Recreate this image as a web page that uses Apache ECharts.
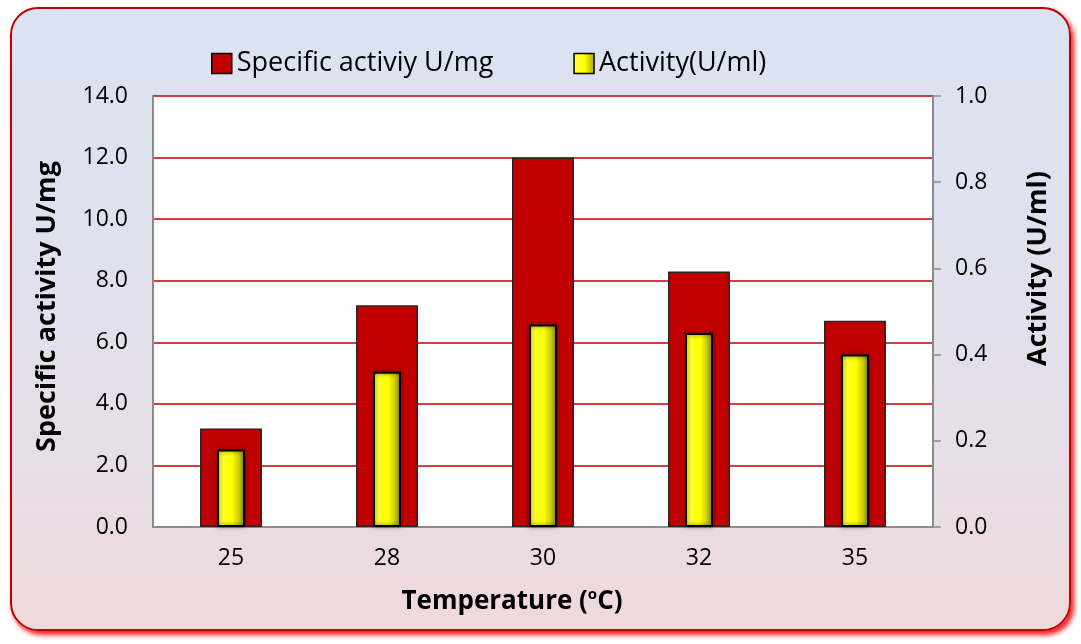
<!DOCTYPE html>
<html>
<head>
<meta charset="utf-8">
<script src="https://cdn.jsdelivr.net/npm/echarts@6/dist/echarts.min.js"></script>
<style>
  html, body { margin: 0; padding: 0; width: 1081px; height: 644px; overflow: hidden; background: #ffffff; }
  #frame {
    position: absolute; left: 10px; top: 7px; width: 1061px; height: 624px;
    box-sizing: border-box; border: 2px solid #c00000; border-radius: 28px;
    background: linear-gradient(to bottom, #dbe3f3 0%, #e3dfea 60%, #efd9dc 100%);
    box-shadow: 3px 4px 5px rgba(255, 0, 0, 0.9);
  }
  #chart { position: absolute; left: 0; top: 0; width: 1081px; height: 644px; }
</style>
</head>
<body>
<div id="frame"></div>
<div id="chart"></div>
<script>
// Temperature series (°C) and the two measured quantities
const temperatures = ['25', '28', '30', '32', '35'];
const specificActivity = [3.2, 7.2, 12.0, 8.3, 6.7];   // U/mg
const activity = [0.18, 0.36, 0.47, 0.45, 0.40];       // U/ml

const FONT = '"Open Sans", "Noto Sans", sans-serif';

const yellowFill = new echarts.graphic.LinearGradient(0, 0, 1, 0, [
  { offset: 0, color: '#ffff40' },
  { offset: 0.55, color: '#ffff00' },
  { offset: 0.65, color: '#e8e800' },
  { offset: 1, color: '#a6a600' }
]);

const chart = echarts.init(document.getElementById('chart'), null, { renderer: 'canvas' });

chart.setOption({
  backgroundColor: 'transparent',
  textStyle: { fontFamily: FONT },
  legend: {
    top: 45,
    left: 206,
    icon: 'rect',
    itemWidth: 20,
    itemHeight: 20,
    itemGap: 80,
    textStyle: { fontSize: 27, color: '#000', fontFamily: FONT },
    data: [
      { name: 'Specific activiy U/mg', itemStyle: { color: '#c00000', borderColor: '#000', borderWidth: 1.5 } },
      { name: 'Activity(U/ml)', itemStyle: { color: yellowFill, borderColor: '#000', borderWidth: 1.5 } }
    ]
  },
  grid: { left: 153, right: 148, top: 96, bottom: 117, show: true, backgroundColor: '#ffffff', borderWidth: 0 },
  xAxis: [
    {
      type: 'category',
      data: temperatures,
      name: '{b|Temperature (}{s|o}{b|C)}',
      nameLocation: 'middle',
      nameGap: 60,
      nameTextStyle: {
        padding: [0, 62, 0, 0],
        rich: {
          b: { fontSize: 26, fontWeight: 'bold', color: '#000', fontFamily: FONT },
          s: { fontSize: 15, fontWeight: 'bold', color: '#000', fontFamily: FONT, verticalAlign: 'top', padding: [0, 0, 14, 0] }
        }
      },
      axisLine: { lineStyle: { color: '#8c8c8c', width: 2 } },
      axisTick: { show: false },
      axisLabel: { fontSize: 23, color: '#000', margin: 20, fontFamily: FONT }
    },
    {
      // second category axis, hidden, so the narrow bars centre on the wide ones
      type: 'category',
      data: temperatures,
      show: false
    }
  ],
  yAxis: [
    {
      type: 'value',
      min: 0, max: 14, interval: 2,
      name: 'Specific activity U/mg',
      nameLocation: 'middle',
      nameGap: 92,
      nameRotate: 90,
      nameTextStyle: { fontSize: 27, fontWeight: 'bold', color: '#000', fontFamily: FONT, padding: [0, 0, 0, 10] },
      axisLine: { show: true, lineStyle: { color: '#8c8c8c', width: 2 } },
      axisTick: { show: false },
      axisLabel: { fontSize: 23, color: '#000', margin: 25, fontFamily: FONT, formatter: v => v.toFixed(1) },
      splitLine: { show: true, lineStyle: { color: '#c00000', width: 1.5 } }
    },
    {
      type: 'value',
      min: 0, max: 1, interval: 0.2,
      position: 'right',
      name: 'Activity (U/ml)',
      nameLocation: 'middle',
      nameGap: 92,
      nameRotate: 90,
      nameTextStyle: { fontSize: 27, fontWeight: 'bold', color: '#000', fontFamily: FONT, padding: [0, 0, 0, 86] },
      axisLine: { show: true, lineStyle: { color: '#8c8c8c', width: 2 } },
      axisTick: { show: true, length: 8, lineStyle: { color: '#8c8c8c', width: 1.5 } },
      axisLabel: { fontSize: 23, color: '#000', margin: 22, fontFamily: FONT, formatter: v => v.toFixed(1) },
      splitLine: { show: false }
    }
  ],
  series: [
    {
      name: 'Specific activiy U/mg',
      type: 'bar',
      xAxisIndex: 0,
      yAxisIndex: 0,
      data: specificActivity,
      barWidth: 62,
      itemStyle: { color: '#c00000', borderColor: '#262626', borderWidth: 1.5 },
      z: 2
    },
    {
      name: 'Activity(U/ml)',
      type: 'bar',
      xAxisIndex: 1,
      yAxisIndex: 1,
      data: activity,
      barWidth: 28,
      itemStyle: {
        color: yellowFill, borderColor: '#000', borderWidth: 2,
        shadowColor: 'rgba(0,0,0,0.6)', shadowBlur: 4
      },
      z: 3
    }
  ]
});
</script>
</body>
</html>
